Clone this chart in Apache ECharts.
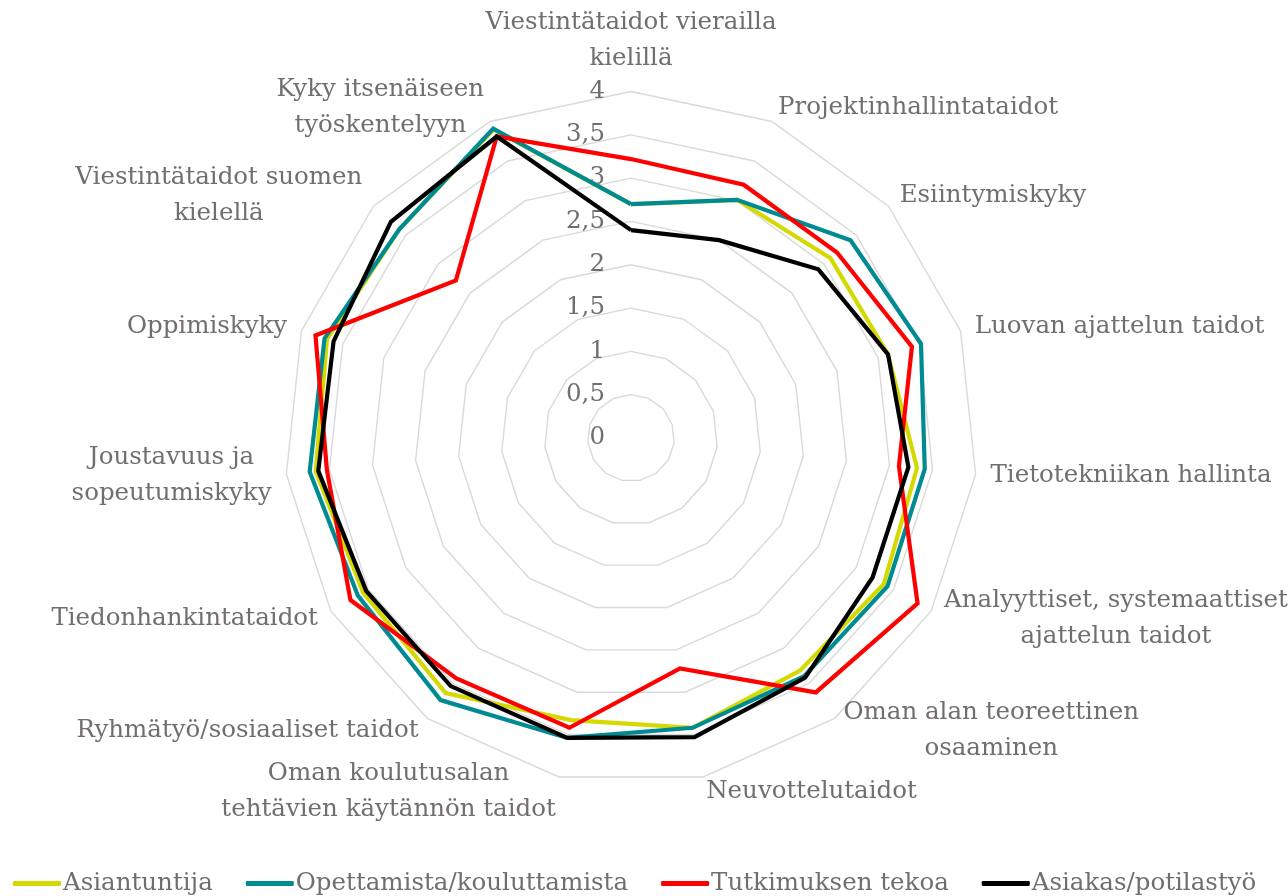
<!DOCTYPE html>
<html>
<head>
<meta charset="utf-8">
<script src="https://cdn.jsdelivr.net/npm/echarts@6/dist/echarts.min.js"></script>
<style>
html,body{margin:0;padding:0;background:#fff;}
#chart{width:1288px;height:896px;}
</style>
</head>
<body>
<div id="chart"></div>
<script>
// Categories listed clockwise starting from the top axis
var categories = [
  'Viestintätaidot vierailla\nkielillä',
  'Projektinhallintataidot',
  'Esiintymiskyky',
  'Luovan ajattelun taidot',
  'Tietotekniikan hallinta',
  'Analyyttiset, systemaattiset\najattelun taidot',
  'Oman alan teoreettinen\nosaaminen',
  'Neuvottelutaidot',
  'Oman koulutusalan\ntehtävien käytännön taidot',
  'Ryhmätyö/sosiaaliset taidot',
  'Tiedonhankintataidot',
  'Joustavuus ja\nsopeutumiskyky',
  'Oppimiskyky',
  'Viestintätaidot suomen\nkielellä',
  'Kyky itsenäiseen\ntyöskentelyyn'
];
var seriesNames = ['Asiantuntija', 'Opettamista/kouluttamista', 'Tutkimuksen tekoa', 'Asiakas/potilastyö'];
var asiantuntija = [2.70, 3.01, 3.10, 3.12, 3.32, 3.37, 3.32, 3.42, 3.33, 3.64, 3.57, 3.66, 3.69, 3.60, 3.90];
var opettamista  = [2.70, 3.01, 3.41, 3.52, 3.41, 3.42, 3.40, 3.42, 3.54, 3.74, 3.64, 3.73, 3.72, 3.60, 3.91];
var tutkimus     = [3.22, 3.20, 3.20, 3.41, 3.11, 3.82, 3.63, 2.72, 3.42, 3.43, 3.74, 3.53, 3.83, 2.72, 3.81];
var asiakas      = [2.40, 2.50, 2.91, 3.12, 3.22, 3.22, 3.42, 3.53, 3.54, 3.54, 3.53, 3.63, 3.61, 3.73, 3.81];
var axisMin = 0, axisMax = 4, axisSplit = 8;
var colors = ['#D4DA00', '#008B93', '#FF0000', '#000000'];

var FONT = 'DejaVu Serif';
var TXT = '#726E6E';
var FS = 24.5;

// ECharts places indicators counter-clockwise; reorder so they read clockwise.
var order = [0];
for (var i = categories.length - 1; i >= 1; i--) order.push(i);
function reorder(arr) { return order.map(function (k) { return arr[k]; }); }

var indicators = reorder(categories).map(function (name, idx) {
  var ind = { name: name, min: axisMin, max: axisMax };
  if (idx === 0) {
    ind.axisLabel = {
      show: true, color: TXT, fontFamily: FONT, fontSize: FS, margin: 26,
      formatter: function (v) { return String(v).replace('.', ','); }
    };
  }
  return ind;
});

var allData = [asiantuntija, opettamista, tutkimus, asiakas];
var series = seriesNames.map(function (nm, i) {
  return {
    type: 'radar',
    name: nm,
    symbol: 'none',
    lineStyle: { color: colors[i], width: 4.2, join: 'miter' },
    itemStyle: { color: colors[i] },
    z: 2 + i,
    data: [{ name: nm, value: reorder(allData[i]) }]
  };
});

var chart = echarts.init(document.getElementById('chart'), null, { renderer: 'canvas' });
chart.setOption({
  backgroundColor: '#fff',
  animation: false,
  color: colors,
  legend: {
    data: seriesNames,
    left: 8,
    top: 866,
    icon: 'roundRect',
    itemWidth: 48,
    itemHeight: 5,
    itemGap: 33,
    textStyle: { color: TXT, fontFamily: FONT, fontSize: FS, padding: [0, 0, 0, -3] }
  },
  radar: {
    center: [631, 438],
    radius: 346.5,
    startAngle: 90,
    shape: 'polygon',
    splitNumber: axisSplit,
    nameGap: 15,
    axisName: {
      color: TXT, fontFamily: FONT, fontSize: FS, lineHeight: 36,
      formatter: function (name) {
        return name.split('\n').map(function (l) { return '{c|' + l + '}'; }).join('\n');
      },
      rich: { c: { align: 'center', color: TXT, fontFamily: FONT, fontSize: FS, lineHeight: 36 } }
    },
    axisLine: { show: false },
    axisTick: { show: false },
    axisLabel: { show: false },
    splitArea: { show: false },
    splitLine: { lineStyle: { color: '#D9D9D9', width: 1.4 } },
    indicator: indicators
  },
  series: series
});
</script>
</body>
</html>
